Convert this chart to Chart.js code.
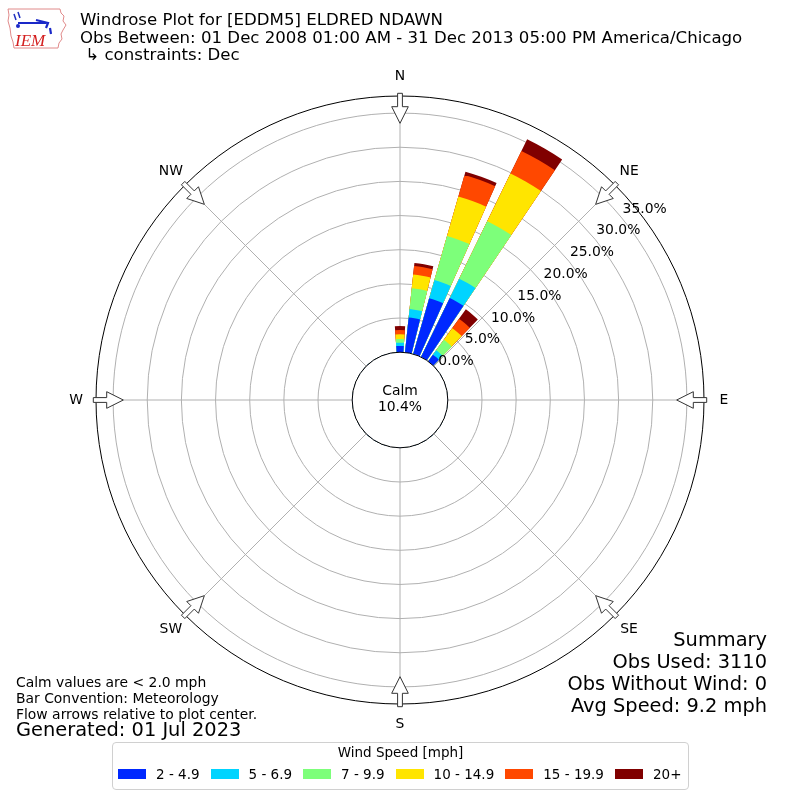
<!DOCTYPE html>
<html>
<head>
<meta charset="utf-8">
<script src="https://cdn.jsdelivr.net/npm/chart.js@4/dist/chart.umd.min.js"></script>
<style>
html,body{margin:0;padding:0;background:#fff;}
#wrap{position:relative;width:800px;height:800px;font-family:"DejaVu Sans",sans-serif;color:#000;overflow:hidden;}
#c{position:absolute;left:0;top:0;}
.t{position:absolute;white-space:pre;}
#legendBox{position:absolute;left:112px;top:742px;width:577px;height:48px;border:1px solid #d0d0d0;border-radius:4px;box-sizing:border-box;background:#fff;}
#legendItems{position:absolute;left:118px;top:764px;height:20px;display:flex;align-items:center;font-size:13.5px;line-height:20px;white-space:pre;}
.sw{display:inline-block;width:28px;height:10px;margin-right:10px;}
.lb{margin-right:11px;}
</style>
</head>
<body>
<div id="wrap">
  <canvas id="c" width="800" height="800"></canvas>
  <svg class="t" style="left:6px;top:6px;" width="62" height="46" viewBox="0 0 62 46">
    <path d="M2 3 L54 3 L55 7 L58 10 L57 15 L60 19 L57 24 L55 28 L56 33 L53 37 L52 42 L8 42 L7 36 L5 30 L4 22 L2 15 L3 9 Z" fill="none" stroke="#e08a8a" stroke-width="1"/>
    <path d="M8 8 L10 14 M12 6 L14 12" stroke="#2030c0" stroke-width="1.5" fill="none"/>
    <path d="M12 17 L40 17 M30 14 L42 17 L40 22 M44 22 L45 28" stroke="#1a28c8" stroke-width="2.2" fill="none"/>
    <circle cx="12" cy="20" r="2" fill="#1a28c8"/>
    <text x="9" y="40" font-family="Liberation Serif, serif" font-style="italic" font-size="17" fill="#d42020">IEM</text>
  </svg>
  <div class="t" id="title1" style="left:80px;top:10px;font-size:16.6px;line-height:20px;">Windrose Plot for [EDDM5] ELDRED NDAWN</div>
  <div class="t" id="title2" style="left:80px;top:28px;font-size:16.6px;line-height:20px;">Obs Between: 01 Dec 2008 01:00 AM - 31 Dec 2013 05:00 PM America/Chicago</div>
  <div class="t" id="title3" style="left:80px;top:45px;font-size:16.6px;line-height:20px;"> ↳ constraints: Dec</div>

  <div class="t" style="left:16px;top:673px;font-size:13.9px;line-height:18px;">Calm values are &lt; 2.0 mph</div>
  <div class="t" style="left:16px;top:689px;font-size:13.9px;line-height:18px;">Bar Convention: Meteorology</div>
  <div class="t" style="left:16px;top:705px;font-size:13.9px;line-height:18px;">Flow arrows relative to plot center.</div>
  <div class="t" style="left:16px;top:718px;font-size:19.4px;line-height:24px;">Generated: 01 Jul 2023</div>

  <div class="t" style="right:33px;top:628px;font-size:19.4px;line-height:24px;text-align:right;">Summary</div>
  <div class="t" style="right:33px;top:650px;font-size:19.4px;line-height:24px;text-align:right;">Obs Used: 3110</div>
  <div class="t" style="right:33px;top:672px;font-size:19.4px;line-height:24px;text-align:right;">Obs Without Wind: 0</div>
  <div class="t" style="right:33px;top:694px;font-size:19.4px;line-height:24px;text-align:right;">Avg Speed: 9.2 mph</div>

  <div id="legendBox"></div>
  <div class="t" id="legendTitle" style="left:112px;width:577px;top:742px;font-size:13.5px;line-height:20px;text-align:center;">Wind Speed [mph]</div>
  <div id="legendItems"></div>
</div>
<script>
// ---- data ----
const directions = [0,10,20,30,40,50,60,70,80,90,100,110,120,130,140,150,160,170,
                    180,190,200,210,220,230,240,250,260,270,280,290,300,310,320,330,340,350];
const speedBins = ['2 - 4.9','5 - 6.9','7 - 9.9','10 - 14.9','15 - 19.9','20+'];
const binColors = ['#0028ff','#00d4ff','#7dff7a','#ffe500','#ff4800','#800000'];
// percent of observations per direction (0,10,20,30,40 deg; rest zero)
const spd2to5   = [0.91,5.14,8.50,9.62,1.20,0,0,0,0,0,0,0,0,0,0,0,0,0,0,0,0,0,0,0,0,0,0,0,0,0,0,0,0,0,0,0];
const spd5to7   = [0.48,1.24,2.78,3.14,0.80,0,0,0,0,0,0,0,0,0,0,0,0,0,0,0,0,0,0,0,0,0,0,0,0,0,0,0,0,0,0,0];
const spd7to10  = [0.54,3.08,6.70,9.37,1.90,0,0,0,0,0,0,0,0,0,0,0,0,0,0,0,0,0,0,0,0,0,0,0,0,0,0,0,0,0,0,0];
const spd10to15 = [0.69,2.02,6.00,7.77,2.10,0,0,0,0,0,0,0,0,0,0,0,0,0,0,0,0,0,0,0,0,0,0,0,0,0,0,0,0,0,0,0];
const spd15to20 = [0.63,1.24,3.28,3.65,1.70,0,0,0,0,0,0,0,0,0,0,0,0,0,0,0,0,0,0,0,0,0,0,0,0,0,0,0,0,0,0,0];
const spd20plus = [0.59,0.45,0.50,1.90,1.70,0,0,0,0,0,0,0,0,0,0,0,0,0,0,0,0,0,0,0,0,0,0,0,0,0,0,0,0,0,0,0];
const calmPercent = 10.4;
const rTicks = [0,5,10,15,20,25,30,35];
const compassLabels = ['N','NE','E','SE','S','SW','W','NW'];
const compassAngles = [0,45,90,135,180,225,270,315];

// ---- build stacked (cumulative) polar datasets ----
const binSeries = [spd2to5, spd5to7, spd7to10, spd10to15, spd15to20, spd20plus];
const SECTOR = 10, BAR = 8;     // degrees per sector, bar opening
const labels = [];
directions.forEach(d => { labels.push(d + '°'); labels.push(''); });
const running = directions.map(() => 0);
const datasets = binSeries.map((series, b) => {
  const data = [];
  series.forEach((v, k) => { running[k] += v; data.push(running[k]); data.push(0); });
  return {
    label: speedBins[b],
    data: data,
    borderWidth: 0,
    backgroundColor: ctx => (ctx.dataIndex % 2 === 0 ? binColors[b] : 'rgba(0,0,0,0)'),
    angle: ctx => (ctx.dataIndex % 2 === 0 ? BAR : SECTOR - BAR)
  };
});

// ---- legend (HTML) ----
const li = document.getElementById('legendItems');
speedBins.forEach((s, i) => {
  const sw = document.createElement('span'); sw.className = 'sw'; sw.style.background = binColors[i];
  const lb = document.createElement('span'); lb.className = 'lb'; lb.textContent = s;
  li.appendChild(sw); li.appendChild(lb);
});

const FONT = '"DejaVu Sans", sans-serif';
const rad = d => d * Math.PI / 180;

const windrosePlugin = {
  id: 'windrose',
  beforeDatasetsDraw(chart) {
    const s = chart.scales.r, c = chart.ctx;
    const r0 = s.getDistanceFromCenterForValue(0);
    const r1 = s.getDistanceFromCenterForValue(s.max);
    c.save();
    c.strokeStyle = '#b0b0b0'; c.lineWidth = 1;
    compassAngles.forEach(a => {
      const t = rad(a);
      c.beginPath();
      c.moveTo(s.xCenter + r0 * Math.sin(t), s.yCenter - r0 * Math.cos(t));
      c.lineTo(s.xCenter + r1 * Math.sin(t), s.yCenter - r1 * Math.cos(t));
      c.stroke();
    });
    c.restore();
  },
  afterDatasetsDraw(chart) {
    const s = chart.scales.r, c = chart.ctx, cx = s.xCenter, cy = s.yCenter;
    const r0 = s.getDistanceFromCenterForValue(0);
    const rOut = s.getDistanceFromCenterForValue(s.max);
    c.save();
    // calm circle
    c.beginPath(); c.arc(cx, cy, r0, 0, 2 * Math.PI);
    c.fillStyle = '#fff'; c.fill();
    c.strokeStyle = '#000'; c.lineWidth = 1; c.stroke();
    c.fillStyle = '#000'; c.font = '13.9px ' + FONT;
    c.textAlign = 'center'; c.textBaseline = 'middle';
    c.fillText('Calm', cx, cy - 8.5);
    c.fillText(calmPercent.toFixed(1) + '%', cx, cy + 7.5);
    // flow arrows
    compassAngles.forEach(a => {
      const t = rad(a);
      const ux = Math.sin(t), uy = -Math.cos(t), wx = Math.cos(t), wy = Math.sin(t);
      const P = (r, o) => [cx + r * ux + o * wx, cy + r * uy + o * wy];
      const pts = [P(rOut + 2.7, -2.4), P(rOut - 10.7, -2.4), P(rOut - 10.7, -8.3), P(rOut - 27.3, 0),
                   P(rOut - 10.7, 8.3), P(rOut - 10.7, 2.4), P(rOut + 2.7, 2.4)];
      c.beginPath();
      pts.forEach((p, i) => (i ? c.lineTo(p[0], p[1]) : c.moveTo(p[0], p[1])));
      c.closePath();
      c.fillStyle = '#fff'; c.fill();
      c.strokeStyle = '#333'; c.lineWidth = 1; c.stroke();
    });
    // compass labels
    c.fillStyle = '#000'; c.font = '13.9px ' + FONT;
    c.textAlign = 'center'; c.textBaseline = 'middle';
    compassLabels.forEach((lab, i) => {
      const t = rad(compassAngles[i]), r = rOut + 20;
      c.fillText(lab, cx + r * Math.sin(t), cy - r * Math.cos(t));
    });
    // radial tick labels
    c.textAlign = 'left';
    const la = rad(50.4);
    rTicks.forEach(v => {
      const r = s.getDistanceFromCenterForValue(v);
      c.fillText(v.toFixed(1) + '%', cx + r * Math.sin(la) + 1.5, cy - r * Math.cos(la) - 8);
    });
    c.restore();
  }
};

const gridTicks = [-7, ...rTicks, 37.5];
new Chart(document.getElementById('c'), {
  type: 'polarArea',
  data: { labels: labels, datasets: datasets },
  options: {
    responsive: false,
    animation: false,
    events: [],
    layout: { padding: { left: 96, right: 96, top: 96, bottom: 96 } },
    plugins: { legend: { display: false }, tooltip: { enabled: false }, title: { display: false } },
    scales: {
      r: {
        type: 'radialLinear',
        min: -7,
        max: 37.5,
        bounds: 'data',
        startAngle: -BAR / 2,
        ticks: { display: false },
        pointLabels: { display: false },
        angleLines: { display: false },
        grid: {
          circular: true,
          lineWidth: 1,
          color: ctx => {
            const v = ctx.tick ? ctx.tick.value : 0;
            if (v >= 37.5) return '#000';
            if (v <= 0) return 'rgba(0,0,0,0)';
            return '#b0b0b0';
          }
        },
        afterBuildTicks: sc => { sc.ticks = gridTicks.map(v => ({ value: v })); }
      }
    }
  },
  plugins: [windrosePlugin]
});
</script>
</body>
</html>
